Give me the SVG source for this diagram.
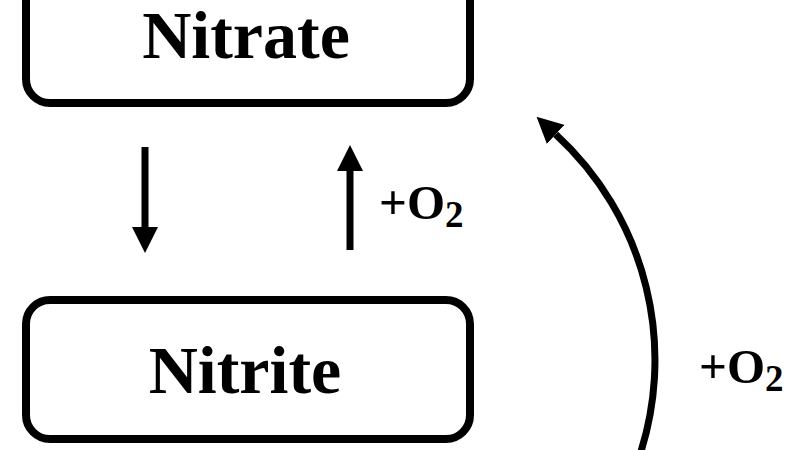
<svg xmlns="http://www.w3.org/2000/svg" width="800" height="450" viewBox="0 0 800 450">
<defs>
<style>
.box{fill:#fff;stroke:#000;stroke-width:8}
.lbl{font-family:"Liberation Serif","Times New Roman",serif;font-weight:bold;fill:#000}
.name{font-size:68px;text-anchor:middle}
.o2{font-size:49px}
.sub{font-size:37px}
.con{fill:none;stroke:#000;stroke-width:7}
</style>
<marker id="ah" markerUnits="userSpaceOnUse" markerWidth="26" markerHeight="26" refX="0" refY="13" orient="auto" viewBox="0 0 26 26">
<path d="M0,0 L26,13 L0,26 Z" fill="#000"/>
</marker>
</defs>
<rect width="800" height="450" fill="#fff"/>
<g id="nitrate">
<rect class="box" x="26" y="-40" width="444" height="143" rx="24"/>
<text class="lbl name" x="246" y="58">Nitrate</text>
</g>
<g id="nitrite">
<rect class="box" x="26" y="300" width="444" height="139" rx="24"/>
<text class="lbl name" x="245" y="393">Nitrite</text>
</g>
<g id="connectors">
<line class="con" x1="145" y1="147" x2="145" y2="227" marker-end="url(#ah)"/>
<line class="con" x1="350" y1="250" x2="350" y2="171" marker-end="url(#ah)"/>
<text class="lbl o2" x="379" y="219">+O<tspan class="sub" dy="8">2</tspan></text>
<path class="con" d="M636.5,464.7 A306,306 0 0 0 555.7,134.4" marker-end="url(#ah)"/>
<text class="lbl o2" x="699" y="383">+O<tspan class="sub" dy="8">2</tspan></text>
</g>
</svg>
